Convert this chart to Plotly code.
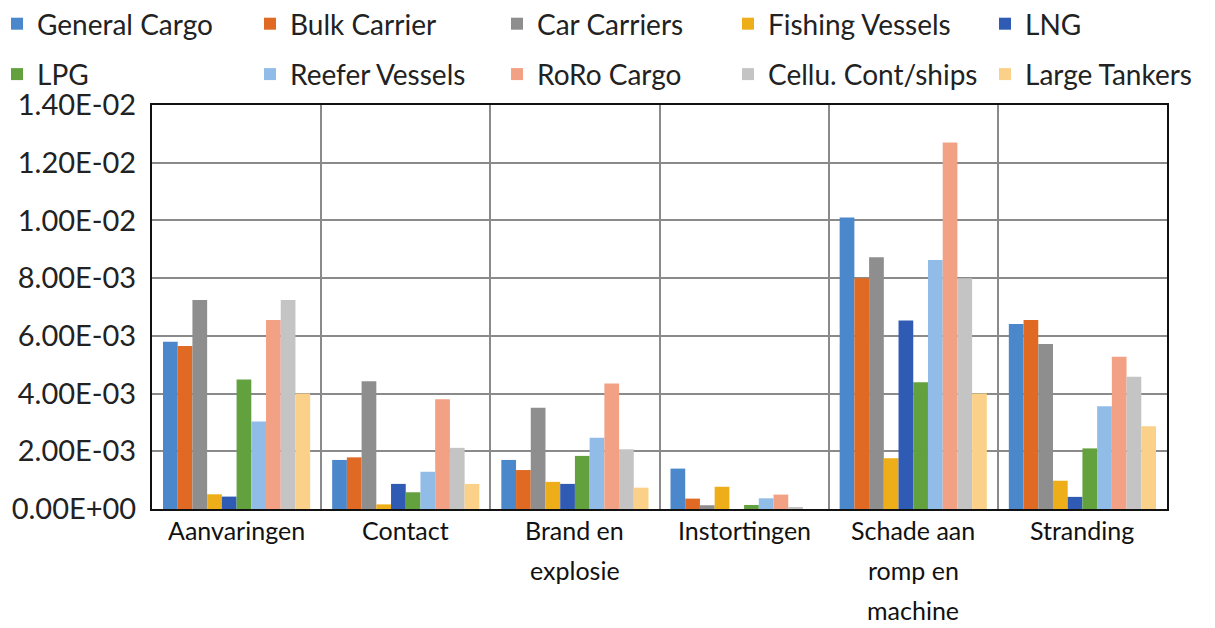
import plotly.graph_objects as go

# Accident categories (x axis), each label split into its display lines
categories = ["Aanvaringen", "Contact", "Brand en explosie", "Instortingen",
              "Schade aan romp en machine", "Stranding"]
category_lines = [["Aanvaringen"], ["Contact"], ["Brand en", "explosie"], ["Instortingen"],
                  ["Schade aan", "romp en", "machine"], ["Stranding"]]

# Frequencies per ship type, one value per category
general_cargo = [5.80e-3, 1.70e-3, 1.70e-3, 1.40e-3, 1.01e-2, 6.41e-3]
bulk_carrier = [5.65e-3, 1.79e-3, 1.35e-3, 0.36e-3, 8.00e-3, 6.55e-3]
car_carriers = [7.24e-3, 4.43e-3, 3.51e-3, 0.13e-3, 8.72e-3, 5.72e-3]
fishing_vessels = [0.51e-3, 0.16e-3, 0.94e-3, 0.77e-3, 1.76e-3, 0.98e-3]
lng = [0.43e-3, 0.87e-3, 0.87e-3, 0.0, 6.53e-3, 0.42e-3]
lpg = [4.49e-3, 0.58e-3, 1.84e-3, 0.14e-3, 4.39e-3, 2.10e-3]
reefer_vessels = [3.03e-3, 1.29e-3, 2.47e-3, 0.37e-3, 8.63e-3, 3.56e-3]
roro_cargo = [6.55e-3, 3.80e-3, 4.35e-3, 0.50e-3, 1.27e-2, 5.28e-3]
cellu_cont_ships = [7.24e-3, 2.12e-3, 2.07e-3, 0.07e-3, 8.00e-3, 4.58e-3]
large_tankers = [4.00e-3, 0.87e-3, 0.74e-3, 0.0, 4.00e-3, 2.87e-3]

series_names = ["General Cargo", "Bulk Carrier", "Car Carriers", "Fishing Vessels", "LNG",
                "LPG", "Reefer Vessels", "RoRo Cargo", "Cellu. Cont/ships", "Large Tankers"]
series_values = [general_cargo, bulk_carrier, car_carriers, fishing_vessels, lng,
                 lpg, reefer_vessels, roro_cargo, cellu_cont_ships, large_tankers]
series_colors = ["#4a88cb", "#e06a24", "#8e8e8e", "#eeae1a", "#2f5bb4",
                 "#63a13f", "#92bce8", "#f3a185", "#c4c4c4", "#fbd189"]

# Y axis ticks
y_tick_values = [0, 0.002, 0.004, 0.006, 0.008, 0.010, 0.012, 0.014]
y_tick_labels = ["0.00E+00", "2.00E-03", "4.00E-03", "6.00E-03",
                 "8.00E-03", "1.00E-02", "1.20E-02", "1.40E-02"]

W, H = 1215, 628
M_L, M_R, M_T, M_B = 152, 48, 105, 119
plot_w = W - M_L - M_R
plot_h = H - M_T - M_B

FONT = "Lato"

# Legend laid out as 5 columns x 2 rows; left edge of each column in pixels
legend_cols_px = [-3, 250, 497, 728, 985]

fig = go.Figure()
for i, (name, vals, col) in enumerate(zip(series_names, series_values, series_colors)):
    column = i % 5
    legend_id = "legend" if column == 0 else f"legend{column + 1}"
    fig.add_trace(go.Bar(
        x=categories, y=vals, name=name,
        marker=dict(color=col, line=dict(width=0)),
        legend=legend_id, legendgroup=name,
    ))

legend_common = dict(
    orientation="v", yanchor="top", xanchor="left",
    font=dict(family=FONT, size=28, color="#222222"),
    bgcolor="rgba(0,0,0,0)", tracegroupgap=11, traceorder="grouped",
    itemclick=False, itemdoubleclick=False,
)
legend_top_px = -1
layout_legends = {}
for c, px in enumerate(legend_cols_px):
    key = "legend" if c == 0 else f"legend{c + 1}"
    layout_legends[key] = dict(
        legend_common,
        x=(px - M_L) / plot_w,
        y=1 + (M_T - legend_top_px) / plot_h,
    )

# Category labels, one annotation per text line
annotations = []
for cat, lines in zip(categories, category_lines):
    for j, line in enumerate(lines):
        annotations.append(dict(
            x=cat, y=0, xref="x", yref="y", text=line, showarrow=False,
            yanchor="middle", xanchor="center", yshift=-(21 + 40 * j),
            font=dict(family=FONT, size=25, color="#111111"),
        ))

fig.update_layout(
    width=W, height=H,
    margin=dict(l=M_L, r=M_R, t=M_T, b=M_B, pad=0, autoexpand=False),
    paper_bgcolor="white", plot_bgcolor="white",
    barmode="group", bargap=0.13, bargroupgap=0,
    annotations=annotations,
    **layout_legends,
    xaxis=dict(
        type="category", range=[-0.5, len(categories) - 0.5],
        showticklabels=False, ticks="", showgrid=False,
        showline=True, linecolor="#111111", linewidth=2, mirror=True,
        fixedrange=True,
    ),
    # Overlay axis used only for the vertical separators between categories
    xaxis2=dict(
        overlaying="x", range=[-0.5, len(categories) - 0.5],
        tickvals=[k + 0.5 for k in range(len(categories) - 1)],
        showticklabels=False, ticks="", showgrid=True,
        gridcolor="#8a8a8a", gridwidth=2, showline=False, zeroline=False,
    ),
    yaxis=dict(
        range=[0, 0.014], tickvals=y_tick_values, ticktext=y_tick_labels,
        showgrid=True, gridcolor="#8a8a8a", gridwidth=2, zeroline=False,
        showline=True, linecolor="#111111", linewidth=2, mirror=True,
        ticks="", ticklabelstandoff=8,
        tickfont=dict(family=FONT, size=29, color="#222222"),
    ),
)

# Invisible trace so the overlay axis is drawn
fig.add_trace(go.Scatter(x=[0], y=[0], xaxis="x2", mode="markers",
                         marker=dict(opacity=0), showlegend=False, hoverinfo="skip"))

fig.write_html("out.html")
